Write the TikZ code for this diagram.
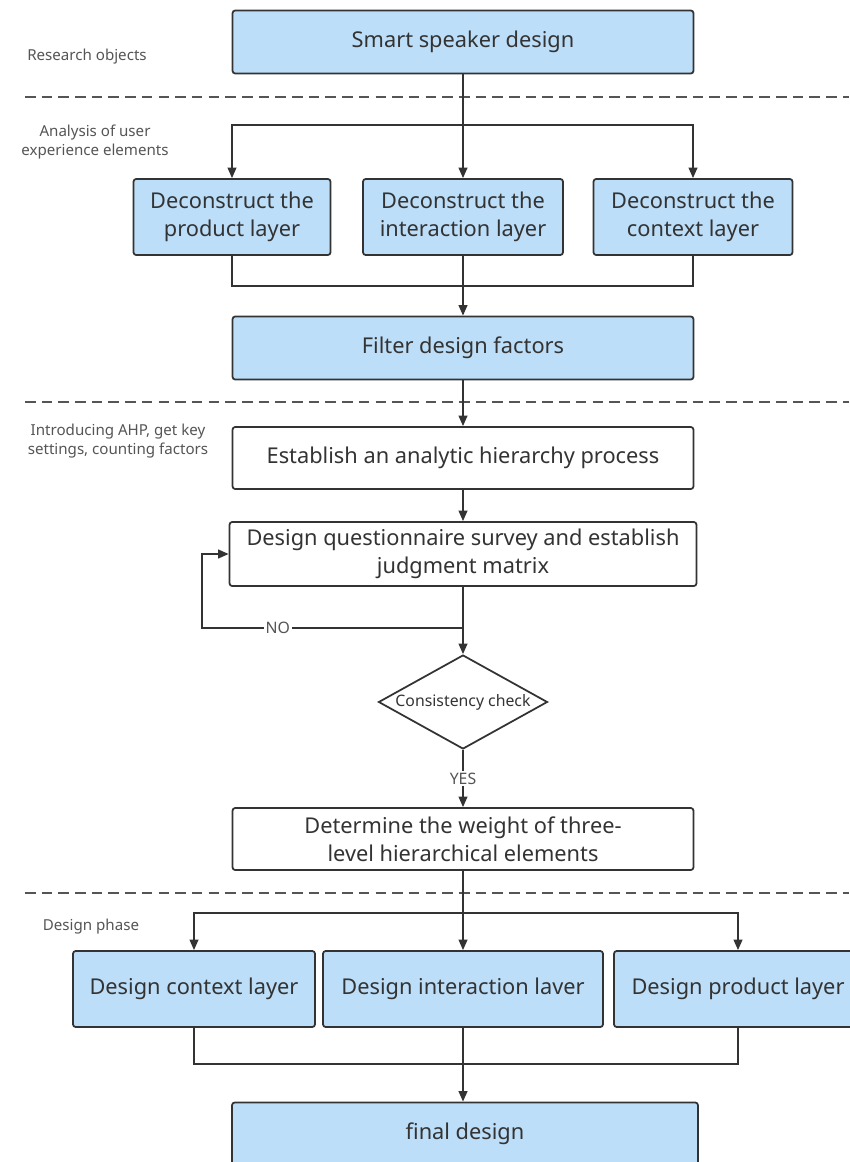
\documentclass[tikz,border=0pt]{standalone}
\usepackage{fontspec}
\setmainfont{Noto Sans}
\usetikzlibrary{arrows.meta, positioning, shapes.geometric}
\definecolor{boxblue}{RGB}{189,222,248}
\definecolor{edgegray}{RGB}{51,51,51}
\definecolor{notegray}{RGB}{85,85,85}

\begin{document}
\begin{tikzpicture}[x=0.02cm, y=-0.02cm,
    bluebox/.style={draw=edgegray, line width=1pt, rounded corners=1.5pt, fill=boxblue, text=edgegray, align=center, font=\fontsize{12.4}{16}\selectfont, inner sep=2pt},
    whitebox/.style={bluebox, fill=white},
    checkbox/.style={draw=edgegray, line width=1pt, diamond, aspect=1.8, inner sep=0pt, minimum width=3.38cm, minimum height=1.88cm, text=edgegray, font=\fontsize{9}{11}\selectfont},
    note/.style={text=notegray, font=\fontsize{8.6}{10.5}\selectfont, align=center},
    flow/.style={draw=edgegray, line width=1pt},
    flowarrow/.style={flow, -{Triangle[length=6pt, width=5pt]}},
    sep/.style={draw=notegray, line width=1pt, dash pattern=on 6pt off 3.5pt},
    answer/.style={fill=white, text=notegray, font=\fontsize{9}{11}\selectfont, inner sep=1pt}
]
    \useasboundingbox (0,0) rectangle (849,1162);

    % Stage notes on the left
    \node[note] (n1) at (87,57) {Research objects};
    \node[note] (n2) at (95,142) {Analysis of user\\experience elements};
    \node[note] (n3) at (118,441) {Introducing AHP, get key\\settings, counting factors};
    \node[note] (n4) at (91,927) {Design phase};

    % Dashed separators
    \draw[sep] (25,97) -- (849,97);
    \draw[sep] (25,402) -- (849,402);
    \draw[sep] (25,893) -- (849,893);

    % Boxes
    \node[bluebox, minimum width=9.22cm, minimum height=1.26cm] (top) at (463,42) {Smart speaker design};
    \node[bluebox, minimum width=3.94cm, minimum height=1.52cm] (dec1) at (232,217) {Deconstruct the\\product layer};
    \node[bluebox, minimum width=4.0cm, minimum height=1.52cm] (dec2) at (463,217) {Deconstruct the\\interaction layer};
    \node[bluebox, minimum width=3.98cm, minimum height=1.52cm] (dec3) at (693,217) {Deconstruct the\\context layer};
    \node[bluebox, minimum width=9.22cm, minimum height=1.26cm] (filt) at (463,348) {Filter design factors};
    \node[whitebox, minimum width=9.22cm, minimum height=1.24cm] (ahp) at (463,458) {Establish an analytic hierarchy process};
    \node[whitebox, minimum width=9.34cm, minimum height=1.28cm] (quest) at (463,554) {Design questionnaire survey and establish\\judgment matrix};
    \node[checkbox] (check) at (463,702) {Consistency check};
    \node[whitebox, minimum width=9.22cm, minimum height=1.24cm] (weight) at (463,839) {Determine the weight of three-\\level hierarchical elements};
    \node[bluebox, minimum width=4.84cm, minimum height=1.52cm] (dctx) at (194,989) {Design context layer};
    \node[bluebox, minimum width=5.6cm, minimum height=1.52cm] (dint) at (463,989) {Design interaction laver};
    \node[bluebox, minimum width=4.96cm, minimum height=1.52cm] (dprod) at (738,989) {Design product layer};
    \node[bluebox, minimum width=9.32cm, minimum height=1.26cm] (final) at (465,1134) {final design};

    % Junction points
    \coordinate (split1) at (463,125);
    \coordinate (join1) at (463,286);
    \coordinate (nosplit) at (463,628);
    \coordinate (noleft) at (202,628);
    \coordinate (split2) at (463,913);
    \coordinate (join2) at (463,1064);

    % Top to the three deconstruct boxes
    \draw[flowarrow] (top.south) -- (split1) -- (dec2.north);
    \draw[flowarrow] (split1) -| (dec1.north);
    \draw[flowarrow] (split1) -| (dec3.north);
    \draw[flow] (dec1.south) |- (join1);
    \draw[flow] (dec3.south) |- (join1);
    \draw[flowarrow] (dec2.south) -- (filt.north);

    % AHP chain
    \draw[flowarrow] (filt.south) -- (ahp.north);
    \draw[flowarrow] (ahp.south) -- (quest.north);
    \draw[flowarrow] (quest.south) -- (check.north);
    \draw[flowarrow] (nosplit) -- node[answer, pos=0.71] {NO} (noleft) |- (quest.west);
    \draw[flowarrow] (check.south) -- node[answer] {YES} (weight.north);

    % Design phase
    \draw[flowarrow] (weight.south) -- (split2) -- (dint.north);
    \draw[flowarrow] (split2) -| (dctx.north);
    \draw[flowarrow] (split2) -| (dprod.north);
    \draw[flow] (dctx.south) |- (join2);
    \draw[flow] (dprod.south) |- (join2);
    \draw[flowarrow] (dint.south) -- (join2 |- final.north);
\end{tikzpicture}
\end{document}
